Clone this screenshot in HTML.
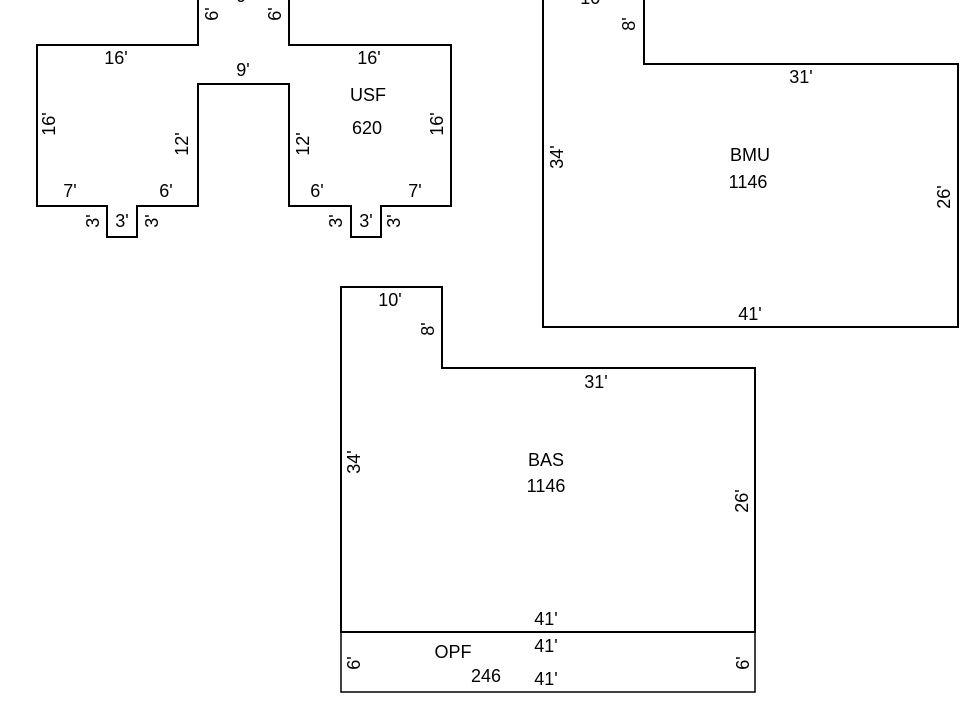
<!DOCTYPE html>
<html><head><style>body{margin:0;background:#fff}svg{display:block}text{font-family:"Liberation Sans",Arial,sans-serif;font-size:18px;fill:#000}</style></head>
<body>
<svg width="960" height="720" viewBox="0 0 960 720" xmlns="http://www.w3.org/2000/svg">
<g fill="none" stroke="#000" stroke-width="2">
<path d="M198,-5 V45 H37 V206 H107 V237 H137 V206 H198 V84 H289 V206 H351 V237 H381 V206 H451 V45 H289 V-5"/>
<path d="M543,-5 V327 H958 V64 H644 V-5"/>
<path d="M341,287 H442 V368 H755 V632 H341 Z"/>
<path d="M341,632 H755 V692 H341 Z" stroke-width="1.5"/>
</g>
<g text-anchor="middle">
<text x="243" y="2">9'</text>
<text x="116" y="64">16'</text>
<text x="369" y="64">16'</text>
<text x="243" y="76">9'</text>
<text x="368" y="101">USF</text>
<text x="367" y="134">620</text>
<text x="70" y="197">7'</text>
<text x="166" y="197">6'</text>
<text x="317" y="197">6'</text>
<text x="415" y="197">7'</text>
<text x="122" y="227">3'</text>
<text x="366" y="227">3'</text>
<text transform="translate(55,124) rotate(-90)">16'</text>
<text transform="translate(188,144) rotate(-90)">12'</text>
<text transform="translate(309,144) rotate(-90)">12'</text>
<text transform="translate(443,124) rotate(-90)">16'</text>
<text transform="translate(218,14) rotate(-90)">6'</text>
<text transform="translate(281,14) rotate(-90)">6'</text>
<text transform="translate(99,221) rotate(-90)">3'</text>
<text transform="translate(158,221) rotate(-90)">3'</text>
<text transform="translate(342,221) rotate(-90)">3'</text>
<text transform="translate(400,221) rotate(-90)">3'</text>
<text x="592" y="4">10'</text>
<text transform="translate(635,24) rotate(-90)">8'</text>
<text x="801" y="83">31'</text>
<text x="750" y="161">BMU</text>
<text x="748" y="188">1146</text>
<text transform="translate(563,157) rotate(-90)">34'</text>
<text transform="translate(950,197) rotate(-90)">26'</text>
<text x="750" y="320">41'</text>
<text x="390" y="306">10'</text>
<text transform="translate(434,329) rotate(-90)">8'</text>
<text x="596" y="388">31'</text>
<text x="546" y="466">BAS</text>
<text x="546" y="492">1146</text>
<text transform="translate(360,462) rotate(-90)">34'</text>
<text transform="translate(748,501) rotate(-90)">26'</text>
<text x="546" y="625">41'</text>
<text x="546" y="652">41'</text>
<text x="546" y="685">41'</text>
<text x="453" y="658">OPF</text>
<text x="486" y="682">246</text>
<text transform="translate(360,663) rotate(-90)">6'</text>
<text transform="translate(749,663) rotate(-90)">6'</text>
</g>
</svg>
</body></html>
